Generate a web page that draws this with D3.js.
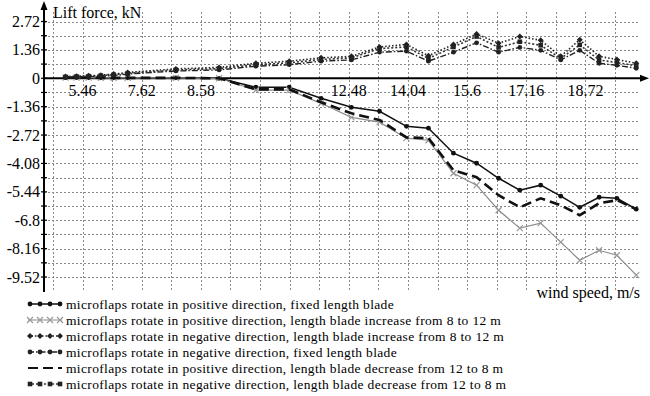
<!DOCTYPE html>
<html>
<head>
<meta charset="utf-8">
<script src="https://cdn.jsdelivr.net/npm/d3@7"></script>
<style>
  body { margin: 0; background: #fff; }
</style>
</head>
<body>
<div id="chart"></div>
<script>
// wind speed, m/s (x of each measured point)
const windSpeed = [5.01, 5.30, 5.62, 5.94, 6.28, 6.65, 7.92, 9.06, 10.03, 10.91, 11.75, 12.55, 13.29,
  14.00, 14.58, 15.24, 15.85, 16.43, 16.99, 17.54, 18.07, 18.57, 19.08, 19.55, 20.06];

// lift force, kN
const posFixed = [0.03, 0.03, 0.03, 0.02, 0.02, 0.02, 0.02, 0, -0.43, -0.43, -0.96, -1.39, -1.58,
  -2.3, -2.39, -3.59, -4.07, -4.79, -5.36, -5.12, -5.65, -6.18, -5.70, -5.75, -6.27];
const posIncrease = [0.03, 0.03, 0.03, 0.02, 0.02, 0.02, 0.02, 0, -0.57, -0.57, -1.2, -1.87, -2.1,
  -2.87, -2.97, -4.55, -5.12, -6.32, -7.18, -6.94, -7.85, -8.72, -8.24, -8.48, -9.43];
const negIncrease = [0.08, 0.1, 0.12, 0.15, 0.2, 0.28, 0.45, 0.52, 0.72, 0.82, 0.98, 1.05, 1.5,
  1.62, 1.08, 1.62, 2.12, 1.68, 2.0, 1.82, 1.05, 1.85, 1.05, 0.9, 0.72];
const negFixed = [0.05, 0.06, 0.08, 0.1, 0.13, 0.2, 0.35, 0.4, 0.58, 0.65, 0.82, 0.88, 1.25,
  1.3, 0.82, 1.25, 1.7, 1.25, 1.48, 1.34, 0.88, 1.34, 0.72, 0.62, 0.48];
const posDecrease = [0.03, 0.03, 0.03, 0.02, 0.02, 0.02, 0.02, 0, -0.53, -0.53, -1.15, -1.68, -2.0,
  -2.83, -2.87, -4.41, -4.74, -5.6, -6.18, -5.75, -6.08, -6.56, -5.99, -5.84, -6.27];
const negDecrease = [0.06, 0.08, 0.1, 0.13, 0.17, 0.24, 0.4, 0.46, 0.65, 0.74, 0.9, 0.98, 1.42,
  1.5, 0.95, 1.5, 2.0, 1.48, 1.75, 1.58, 0.95, 1.6, 0.88, 0.75, 0.6];

const seriesNames = [
  'microflaps rotate in positive direction, fixed length blade',
  'microflaps rotate in positive direction, length blade increase from 8 to 12 m',
  'microflaps rotate in negative direction, length blade increase from 8 to 12 m',
  'microflaps rotate in negative direction, fixed length blade',
  'microflaps rotate in positive direction, length blade decrease from 12 to 8 m',
  'microflaps rotate in negative direction, length blade decrease from 12 to 8 m',
];

const xTickValues = [5.46, 7.02, 8.58, 12.48, 14.04, 15.6, 17.16, 18.72];
const xTickLabels = ['5.46', '7.62', '8.58', '12.48', '14.04', '15.6', '17.16', '18.72'];
const yTickValues = [2.72, 1.36, 0, -1.36, -2.72, -4.08, -5.44, -6.8, -8.16, -9.52];

const width = 650;
const height = 396;
const font = 'Liberation Serif, Times New Roman, Liberation Sans, Arial, sans-serif';

const series = [
  { name: seriesNames[0], values: posFixed, stroke: '#111', sw: 1.5, dash: null, marker: 'circle', mfill: '#111' },
  { name: seriesNames[1], values: posIncrease, stroke: '#8c8c8c', sw: 1.2, dash: null, marker: 'cross', mfill: '#9a9a9a' },
  { name: seriesNames[2], values: negIncrease, stroke: '#222', sw: 1.6, dash: '1.5,2', marker: 'diamond', mfill: '#222' },
  { name: seriesNames[3], values: negFixed, stroke: '#222', sw: 1.4, dash: '6,2,1.5,2', marker: 'circle', mfill: '#222' },
  { name: seriesNames[4], values: posDecrease, stroke: '#111', sw: 2.6, dash: '10,5', marker: null, mfill: '#777' },
  { name: seriesNames[5], values: negDecrease, stroke: '#333', sw: 1.6, dash: '2,2', marker: 'square', mfill: '#222' },
];

const svg = d3.select('#chart').append('svg')
  .attr('width', width)
  .attr('height', height)
  .style('display', 'block')
  .style('font-family', font);

const x = d3.scaleLinear().domain([4.68, 19.5]).range([53, 615]);
const y = d3.scaleLinear().domain([2.72, -9.52]).range([21.5, 277]);

const axisX = 44;
const zeroY = y(0);

//
// grid
//
const gridX = d3.range(0, 20).map(i => 4.68 + i * 0.78);
const gridY = d3.range(-14, 5).map(i => i * 0.68).filter(v => Math.abs(v) > 0.01);

const grid = svg.append('g')
  .attr('stroke', '#8a8a8a')
  .attr('stroke-width', 1)
  .attr('stroke-dasharray', '2,2');

grid.selectAll('line.gx')
  .data(gridX)
  .enter().append('line')
  .attr('class', 'gx')
  .attr('x1', d => Math.round(x(d)) + 0.5)
  .attr('x2', d => Math.round(x(d)) + 0.5)
  .attr('y1', 12)
  .attr('y2', 290);

grid.selectAll('line.gy')
  .data(gridY)
  .enter().append('line')
  .attr('class', 'gy')
  .attr('x1', axisX)
  .attr('x2', 640)
  .attr('y1', d => Math.round(y(d)) + 0.5)
  .attr('y2', d => Math.round(y(d)) + 0.5);

//
// axes
//
const axes = svg.append('g').attr('stroke', '#000').attr('stroke-width', 2);
axes.append('line')
  .attr('x1', axisX).attr('x2', axisX)
  .attr('y1', 6).attr('y2', 292);
axes.append('line')
  .attr('x1', axisX).attr('x2', 642)
  .attr('y1', zeroY).attr('y2', zeroY);
svg.append('path')
  .attr('d', `M${axisX},1 L${axisX - 3.5},10 L${axisX + 3.5},10 Z`)
  .attr('fill', '#000');
svg.append('path')
  .attr('d', `M649,${zeroY} L640,${zeroY - 3.5} L640,${zeroY + 3.5} Z`)
  .attr('fill', '#000');

// small y ticks at every grid step
svg.append('g')
  .selectAll('line')
  .data(gridY.concat([0]))
  .enter().append('line')
  .attr('x1', axisX - 3).attr('x2', axisX + 3)
  .attr('y1', d => y(d)).attr('y2', d => y(d))
  .attr('stroke', '#000').attr('stroke-width', 1.2);

svg.append('g')
  .selectAll('text')
  .data(yTickValues)
  .enter().append('text')
  .attr('x', 40)
  .attr('y', d => y(d))
  .attr('dy', '0.35em')
  .attr('text-anchor', 'end')
  .style('font-size', '16px')
  .style('fill', '#000')
  .text(d => d === 0 ? '0' : String(d));

svg.append('g')
  .selectAll('text')
  .data(xTickValues)
  .enter().append('text')
  .attr('x', d => x(d))
  .attr('y', 96)
  .attr('text-anchor', 'middle')
  .style('font-size', '16px')
  .style('fill', '#000')
  .text((d, i) => xTickLabels[i]);

svg.append('text')
  .attr('x', 53).attr('y', 18)
  .style('font-size', '16px')
  .text('Lift force, kN');

svg.append('text')
  .attr('x', 640).attr('y', 298)
  .attr('text-anchor', 'end')
  .style('font-size', '16px')
  .text('wind speed, m/s');

//
// markers
//
function drawMarker(g, type, cx, cy, s) {
  if (type === 'circle') {
    g.append('circle').attr('cx', cx).attr('cy', cy).attr('r', 2.4).attr('fill', s.mfill);
  } else if (type === 'square') {
    g.append('rect').attr('x', cx - 2.3).attr('y', cy - 2.3).attr('width', 4.6).attr('height', 4.6).attr('fill', s.mfill);
  } else if (type === 'diamond') {
    g.append('path').attr('d', `M${cx},${cy - 3} L${cx + 3},${cy} L${cx},${cy + 3} L${cx - 3},${cy} Z`).attr('fill', s.mfill);
  } else if (type === 'cross') {
    g.append('path').attr('d', `M${cx - 3},${cy - 3} L${cx + 3},${cy + 3} M${cx - 3},${cy + 3} L${cx + 3},${cy - 3}`)
      .attr('stroke', s.mfill).attr('stroke-width', 1.2);
  }
}

const line = d3.line()
  .x(d => x(d[0]))
  .y(d => y(d[1]));

const plot = svg.append('g');
series.forEach(s => {
  const pts = windSpeed.map((w, i) => [w, s.values[i]]);
  plot.append('path')
    .datum(pts)
    .attr('d', line)
    .attr('fill', 'none')
    .attr('stroke', s.stroke)
    .attr('stroke-width', s.sw)
    .attr('stroke-dasharray', s.dash);
  if (s.marker) {
    const mg = plot.append('g');
    pts.forEach(p => drawMarker(mg, s.marker, x(p[0]), y(p[1]), s));
  }
});

//
// legend
//
const legend = svg.append('g');
series.forEach((s, i) => {
  const ly = 304 + i * 16;
  legend.append('line')
    .attr('x1', 28).attr('x2', 62)
    .attr('y1', ly).attr('y2', ly)
    .attr('stroke', s.stroke)
    .attr('stroke-width', Math.min(s.sw, 2.2))
    .attr('stroke-dasharray', s.dash);
  const lg = legend.append('g');
  if (s.marker) {
    [30, 40, 50, 60].forEach(mx => drawMarker(lg, s.marker, mx, ly, s));
  }
  legend.append('text')
    .attr('x', 66).attr('y', ly)
    .attr('dy', '0.35em')
    .style('font-size', '13.5px')
    .style('letter-spacing', '0.35px')
    .text(s.name);
});
</script>
</body>
</html>
